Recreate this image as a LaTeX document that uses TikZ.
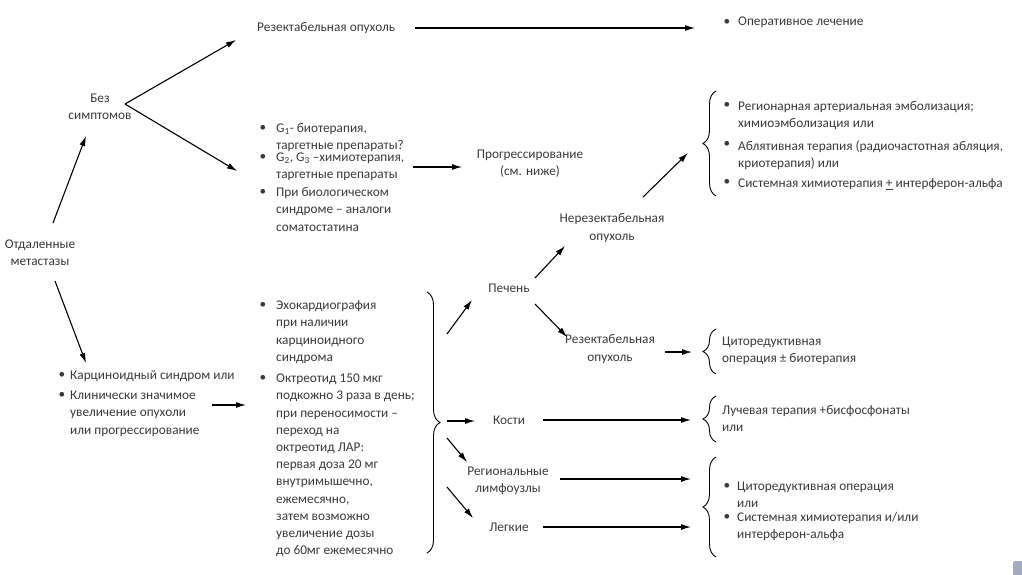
\documentclass[tikz,border=0pt]{standalone}
\usepackage{fontspec}
\setmainfont{Carlito}
\usetikzlibrary{arrows.meta,decorations.pathreplacing}
\definecolor{txtc}{HTML}{3A3A3A}
\definecolor{boxc}{HTML}{A3ACBD}
\newcommand{\fl}{\rule{0pt}{13.5pt}}
\begin{document}
\begin{tikzpicture}[x=1pt,y=-1pt,
  every node/.style={inner sep=0pt, text=txtc, font=\fontsize{13.3}{17.2}\selectfont},
  ctr/.style={align=center},
  lst/.style={anchor=north west, align=left},
  arr/.style={draw=black, line width=1.1pt, -{Latex[length=10pt,width=6pt]}},
  brc/.style={draw=black, line width=0.9pt, decorate, decoration={brace, amplitude=13pt}}]
\useasboundingbox (0,0) rectangle (1022,574);

% left column
\node[ctr] (om) at (40,253) {Отдаленные\\метастазы};
\node[ctr] (bs) at (100,107) {Без\\симптомов};
\node (k1b) at (62,375) {\textbullet};
\node[lst] (k1) at (70,366) {\fl Карциноидный синдром или};
\node (k2b) at (62,395) {\textbullet};
\node[lst] (k2) at (70,386) {\fl Клинически значимое\\увеличение опухоли\\или прогрессирование};

% top row
\node[anchor=west] (ro) at (257,28) {Резектабельная опухоль};
\node (olb) at (727,22) {\textbullet};
\node[anchor=west] (ol) at (738,22) {Оперативное лечение};

% middle list (no symptoms)
\node (g1b) at (263,128) {\textbullet};
\node[lst] (g1) at (276,119) {\fl G\textsubscript{1}- биотерапия,\\таргетные препараты?};
\node (g2b) at (263,157) {\textbullet};
\node[lst] (g2) at (276,148) {\fl G\textsubscript{2}, G\textsubscript{3} –химиотерапия,\\таргетные препараты};
\node (g3b) at (263,192) {\textbullet};
\node[lst] (g3) at (276,183) {\fl При биологическом\\синдроме – аналоги\\соматостатина};

\node[ctr] (pr) at (530,164) {Прогрессирование\\(см. ниже)};
\node[ctr] (nr) at (612,228) {Нерезектабельная\\опухоль};

% top right list
\node (t1b) at (727,105) {\textbullet};
\node[lst] (t1) at (738,97) {\fl Регионарная артериальная эмболизация;\\химиоэмболизация или};
\node (t2b) at (727,144) {\textbullet};
\node[lst] (t2) at (738,137) {\fl Аблятивная терапия (радиочастотная абляция,\\криотерапия) или};
\node (t3b) at (727,182) {\textbullet};
\node[lst] (t3) at (738,174) {\fl Системная химиотерапия \underline{+} интерферон-альфа};

% lower middle list
\node (e1b) at (263,305) {\textbullet};
\node[lst] (e1) at (276,296) {\fl Эхокардиография\\при наличии\\карциноидного\\синдрома};
\node (e2b) at (263,378) {\textbullet};
\node[lst] (e2) at (276,369) {\fl Октреотид 150 мкг\\подкожно 3 раза в день;\\при переносимости –\\переход на\\октреотид ЛАР:\\первая доза 20 мг\\внутримышечно,\\ежемесячно,\\затем возможно\\увеличение дозы\\до 60мг ежемесячно};

% organs
\node (pe) at (509,288) {Печень};
\node[ctr] (rz) at (610,349) {Резектабельная\\опухоль};
\node (ko) at (509,420) {Кости};
\node[ctr] (rl) at (508,481) {Региональные\\лимфоузлы};
\node (le) at (509,527) {Легкие};

% right column treatments
\node[lst] (cr) at (722,332) {\fl Циторедуктивная\\операция ± биотерапия};
\node[lst] (lu) at (722,401) {\fl Лучевая терапия +бисфосфонаты\\или};
\node (b1b) at (727,486) {\textbullet};
\node[lst] (b1) at (737,477) {\fl Циторедуктивная операция\\или};
\node (b2b) at (727,517) {\textbullet};
\node[lst] (b2) at (737,508) {\fl Системная химиотерапия и/или\\интерферон-альфа};

% braces
\coordinate (tbB) at (716,196); \coordinate (tbT) at (716,91);
\draw[brc] (tbB) -- (tbT);
\coordinate (cbB) at (716,374); \coordinate (cbT) at (716,329);
\draw[brc] (cbB) -- (cbT);
\coordinate (lbB) at (716,442); \coordinate (lbT) at (716,396);
\draw[brc] (lbB) -- (lbT);
\coordinate (bbB) at (716,557); \coordinate (bbT) at (716,457);
\draw[brc] (bbB) -- (bbT);
\coordinate (gbT) at (427,292); \coordinate (gbB) at (427,553);
\draw[brc] (gbT) -- (gbB);

% arrows
\draw[arr] ([xshift=13pt,yshift=30pt]om.center) -- ([xshift=-14pt,yshift=-29pt]bs.center);
\draw[arr] ([xshift=15pt,yshift=-28pt]om.center) -- ([xshift=24pt,yshift=12pt]k1b.center);
\draw[arr] ([xshift=25pt,yshift=3pt]bs.center) -- ([xshift=-21pt,yshift=-12pt]ro.west);
\draw[arr] ([xshift=25pt,yshift=3pt]bs.center) -- ([xshift=-26pt,yshift=-14pt]g2b.center);
\draw[arr] ([xshift=158pt]ro.west) -- ([xshift=-32pt,yshift=-6pt]olb.center);
\draw[arr] ([xshift=-117pt,yshift=-3pt]pr.center) -- ([xshift=-68pt,yshift=-3pt]pr.center);
\draw[arr] ([xshift=31pt,yshift=31pt]nr.center) -- ([xshift=76pt,yshift=75pt]nr.center);
\draw[arr] ([xshift=26pt,yshift=10pt]pe.center) -- ([xshift=-47pt,yshift=-18pt]nr.center);
\draw[arr] ([xshift=26pt,yshift=-16pt]pe.center) -- ([xshift=-43pt,yshift=12pt]rz.center);
\draw[arr] ([xshift=55pt,yshift=-3pt]rz.center) -- ([xshift=82pt,yshift=-3pt]rz.center);
\draw[arr] ([xshift=-62pt,yshift=-46pt]pe.center) -- ([xshift=-37pt,yshift=-12pt]pe.center);
\draw[arr] ([xshift=-62pt,yshift=-1pt]ko.center) -- ([xshift=-34pt,yshift=-1pt]ko.center);
\draw[arr] ([xshift=34pt]ko.center) -- ([xshift=182pt]ko.center);
\draw[arr] ([xshift=-61pt,yshift=43pt]rl.center) -- ([xshift=-41pt,yshift=19pt]rl.center);
\draw[arr] ([xshift=52pt,yshift=2pt]rl.center) -- ([xshift=183pt,yshift=2pt]rl.center);
\draw[arr] ([xshift=-62pt,yshift=40pt]le.center) -- ([xshift=-36pt,yshift=9pt]le.center);
\draw[arr] ([xshift=34pt]le.center) -- ([xshift=182pt]le.center);
\draw[arr] ([xshift=150pt,yshift=-10pt]k2b.center) -- ([xshift=184pt,yshift=-10pt]k2b.center);

% corner mark
\fill[boxc, rounded corners=1.5pt] (1013,561) rectangle (1026,578);
\end{tikzpicture}
\end{document}
